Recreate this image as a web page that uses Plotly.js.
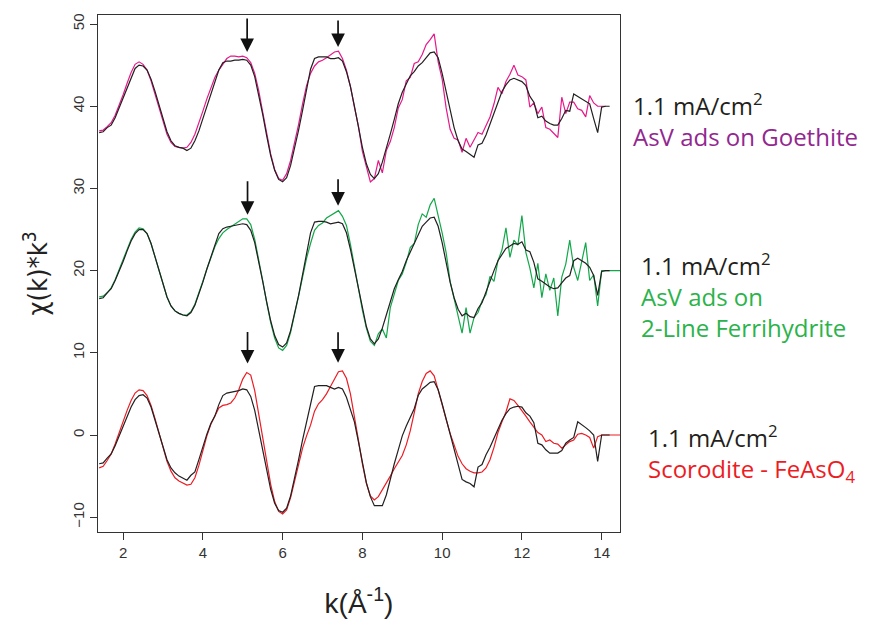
<!DOCTYPE html>
<html><head><meta charset="utf-8">
<script src="https://cdn.plot.ly/plotly-3.0.1.min.js"></script>
<style>html,body{margin:0;padding:0;background:#fff}#chart{width:869px;height:629px}</style>
</head><body><div id="chart"></div>
<script>
const k = [1.4,1.5,1.6,1.7,1.8,1.9,2.0,2.1,2.2,2.3,2.4,2.5,2.6,2.7,2.8,2.9,3.0,3.1,3.2,3.3,3.4,3.5,3.6,3.7,3.8,3.9,
4.0,4.1,4.2,4.3,4.4,4.5,4.6,4.7,4.8,4.9,5.0,5.1,5.2,5.3,5.4,5.5,5.6,5.7,5.8,5.9,6.0,6.1,6.2,6.3,6.4,6.5,6.6,6.7,6.8,6.9,
7.0,7.1,7.2,7.3,7.4,7.5,7.6,7.7,7.8,7.9,8.0,8.1,8.2,8.3,8.4,8.5,8.6,8.7,8.8,8.9,9.0,9.1,9.2,9.3,9.4,9.5,9.6,9.7,9.8,9.9,
10.0,10.1,10.2,10.3,10.4,10.5,10.6,10.7,10.8,10.9,11.0,11.1,11.2,11.3,11.4,11.5,11.6,11.7,11.8,11.9,12.0,12.1,12.2,12.3,12.4,12.5,12.6,12.7,12.8,12.9,
13.0,13.1,13.2,13.3,13.4,13.5,13.6,13.7,13.8,13.9,14.0,14.1,14.2,14.3,14.4,14.5,14.6];

// Top pair: 1.1 mA/cm2 (black) vs AsV ads on Goethite (magenta)
const goethiteSample = [36.8,36.9,37.4,37.7,38.6,39.8,41.0,42.3,43.6,44.6,45.0,44.9,44.4,43.3,41.8,40.1,38.4,36.9,35.8,35.2,35.0,34.9,34.6,34.9,35.8,37.0,
38.5,40.0,41.5,43.0,44.4,45.3,45.5,45.5,45.6,45.6,45.7,45.6,45.0,43.6,41.5,39.0,36.4,34.0,32.2,31.1,30.8,31.3,32.8,34.8,37.1,39.5,42.0,44.5,45.8,46.0,
46.0,46.0,45.8,45.8,45.9,45.5,44.2,42.4,40.0,37.4,35.0,33.0,31.7,31.2,31.8,33.2,34.8,36.6,38.4,40.3,41.7,42.8,43.7,44.2,44.9,45.3,45.9,46.5,46.6,45.9,
44.0,41.8,39.5,37.4,35.8,34.8,34.5,34.2,33.8,35.3,35.5,36.5,37.8,39.0,40.3,41.8,42.6,43.2,43.4,43.2,43.0,42.5,41.2,40.5,38.6,38.8,38.2,37.9,37.7,37.7,
38.5,39.5,39.4,41.5,41.2,40.9,40.6,40.3,38.5,36.8,39.9,40.0,40.0];
const goethiteRef = [37.0,37.1,37.5,38.0,38.9,40.1,41.4,42.8,44.1,45.1,45.4,45.1,44.4,43.1,41.5,39.8,38.1,36.6,35.6,35.1,35.0,34.9,35.0,35.6,36.6,37.9,
39.4,40.9,42.3,43.5,44.4,45.1,45.8,46.1,46.1,46.0,46.1,45.9,45.3,44.0,41.9,39.3,36.6,34.2,32.3,31.2,31.0,31.8,33.4,35.5,37.8,40.3,42.5,44.0,44.9,45.4,
45.6,45.9,46.3,46.6,46.7,45.8,44.4,42.4,39.9,37.6,34.5,32.6,30.8,31.2,33.4,31.9,34.6,35.7,37.4,39.8,40.8,43.1,43.5,45.2,45.4,46.3,47.5,48.1,48.8,45.4,
43.3,39.8,37.2,36.1,35.9,34.4,36.1,35.0,36.0,36.8,36.6,37.6,38.7,40.3,42.3,41.5,43.0,43.9,45.0,43.8,43.6,43.2,39.9,40.4,39.1,39.9,37.4,37.2,36.7,36.2,
41.1,39.1,40.5,40.5,39.7,39.5,38.7,41.3,40.4,40.0,40.0,40.0];

// Middle pair: 1.1 mA/cm2 (black) vs AsV ads on 2-Line Ferrihydrite (green)
const ferriSample = [16.6,16.7,17.3,17.8,18.8,19.9,21.1,22.4,23.6,24.5,25.0,25.0,24.5,23.3,21.7,20.0,18.3,16.8,15.7,15.1,14.8,14.6,14.5,14.9,15.8,17.1,
18.6,20.2,21.7,23.2,24.5,25.1,25.3,25.4,25.5,25.6,25.7,25.6,24.9,23.4,21.2,18.7,16.2,13.9,12.1,11.0,10.7,11.2,12.7,14.7,17.0,19.5,22.1,24.6,25.9,26.0,
26.0,25.9,25.7,25.8,25.9,25.7,24.6,22.6,20.2,17.6,15.2,13.2,11.7,11.1,11.7,13.0,14.6,16.3,17.8,18.9,19.9,21.2,22.2,23.2,24.2,25.4,25.9,26.4,26.5,25.4,
23.4,20.9,18.6,16.7,15.3,14.5,14.8,14.4,14.3,15.4,16.1,17.4,18.8,20.0,21.2,21.9,22.7,23.0,23.3,23.2,23.5,22.5,22.3,21.0,19.0,18.7,18.3,18.0,17.8,17.9,
18.5,19.1,19.4,21.2,21.5,21.2,20.9,20.4,19.4,17.0,19.9,20.0,20.0];
const ferriRef = [16.8,16.9,17.3,17.9,18.9,20.1,21.3,22.6,23.8,24.7,25.2,25.1,24.5,23.3,21.7,20.0,18.3,16.8,15.7,15.1,14.8,14.6,14.6,15.0,15.9,17.2,
18.7,20.2,21.6,22.9,23.9,24.6,25.0,25.3,25.6,26.0,26.3,26.3,25.6,23.8,21.4,18.8,16.1,13.7,11.8,10.6,10.3,10.9,12.5,14.6,16.9,19.2,21.5,23.3,24.9,25.5,
25.8,26.4,26.7,27.0,27.3,26.6,25.5,23.2,20.5,17.7,15.2,13.0,11.4,10.9,12.3,12.9,11.8,15.5,17.1,18.8,19.6,21.0,22.8,23.3,25.6,26.9,26.5,28.0,28.8,26.8,
24.6,22.2,18.7,16.6,14.6,12.4,15.5,12.4,14.3,14.9,16.3,17.1,19.3,18.7,21.2,22.5,25.2,21.6,23.7,23.1,26.7,22.2,20.3,17.9,20.9,16.7,19.6,17.6,19.1,14.5,
19.2,20.8,23.7,20.4,18.8,21.2,23.4,18.8,19.5,15.7,20.0,20.0,20.0,20.0,20.0,20.0,20.0];

// Bottom pair: 1.1 mA/cm2 (black) vs Scorodite - FeAsO4 (red)
const scorSample = [-3.5,-3.4,-2.8,-2.3,-1.3,-0.1,1.1,2.3,3.4,4.3,4.8,4.9,4.5,3.4,1.8,0.1,-1.6,-3.0,-4.0,-4.6,-5.0,-5.3,-5.5,-4.9,-4.5,-3.0,
-1.4,0.1,1.4,2.3,3.7,4.8,5.1,5.2,5.3,5.4,5.6,5.5,4.7,3.0,0.6,-1.9,-4.4,-6.6,-8.3,-9.2,-9.4,-8.9,-7.4,-5.3,-3.0,-0.6,1.6,3.5,5.9,6.0,
6.0,6.0,5.8,5.6,5.8,5.6,4.6,3.2,1.6,-0.8,-3.5,-5.8,-7.5,-8.6,-8.6,-8.6,-7.3,-5.3,-3.5,-1.8,-0.1,1.1,2.2,3.2,4.8,5.6,6.0,6.4,6.5,5.5,
3.8,2.0,0.2,-1.6,-3.3,-5.4,-5.7,-5.9,-6.3,-3.9,-3.6,-2.4,-1.5,-0.4,0.8,1.8,2.6,3.2,3.4,3.5,3.4,2.7,2.3,1.5,-1.0,-1.2,-1.8,-2.2,-2.2,-2.2,
-1.9,-1.0,-0.6,-0.3,1.6,1.3,0.9,0.5,0.0,-3.2,0.0,0.0,0.0];
const scorRef = [-4.0,-3.8,-3.1,-2.3,-1.1,0.3,1.7,3.0,4.2,5.1,5.5,5.4,4.8,3.6,2.0,0.2,-1.6,-3.2,-4.4,-5.2,-5.6,-5.9,-6.1,-6.0,-5.2,-3.7,
-1.9,-0.1,1.3,2.4,3.3,3.6,3.7,3.9,4.5,5.5,6.8,7.6,7.3,5.4,2.6,-0.4,-3.4,-6.0,-8.1,-9.3,-9.6,-9.1,-7.6,-5.5,-3.4,-1.6,-0.1,1.2,2.9,3.8,
4.3,5.0,5.9,6.9,7.7,7.8,6.9,5.0,2.4,-0.6,-3.5,-5.9,-7.4,-7.9,-7.5,-6.7,-5.8,-5.0,-4.1,-3.3,-2.5,-1.2,0.5,2.7,5.0,6.5,7.5,7.8,7.2,5.5,
3.6,1.9,0.2,-1.3,-2.6,-3.5,-4.1,-4.4,-4.6,-4.6,-4.5,-4.0,-3.0,-1.5,0.3,1.6,2.8,4.4,4.2,3.6,3.0,2.3,1.6,1.0,0.3,0.0,-0.8,-0.6,-1.0,-1.1,
-1.6,-1.2,-0.8,-0.6,0.1,0.2,0.0,-0.3,-1.6,-0.2,0.0,0.0,0.0,0.0,0.0,0.0,0.0];

const xTicks = [2,4,6,8,10,12,14];
const yTicks = [-10,0,10,20,30,40,50];

const BLACK = '#231f20', MAG = '#e6198a', GREEN = '#12a84a', RED = '#ed1c24';
function tr(y, c){ return {x:k, y:y, type:'scatter', mode:'lines', line:{color:c, width:1.2}, hoverinfo:'skip'}; }
const data = [tr(goethiteRef,MAG), tr(goethiteSample,BLACK), tr(ferriRef,GREEN), tr(ferriSample,BLACK), tr(scorRef,RED), tr(scorSample,BLACK)];

const tickFont = {family:'"Liberation Sans Narrow","Arial Narrow","Liberation Sans",sans-serif', size:15, color:'#333'};
const labFont = 'Open Sans, Noto Sans, sans-serif';

function arrow(x,y,len){ return {x:x, y:y, xref:'x', yref:'y', text:'', showarrow:true, arrowhead:2, arrowsize:1.6, arrowwidth:1.7, arrowcolor:'#111', ax:0, ay:-len, standoff:0}; }
function col(c, t){ return '<span style="color:'+c+'">'+t+'</span>'; }
function label(py, text, shift){ return {xref:'paper', yref:'y', x:1, y:py, xshift:shift, xanchor:'left', yanchor:'middle', align:'left', showarrow:false, text:text, font:{family:labFont, size:24, color:'#231f20'}}; }

const annotations = [
  arrow(5.11,46.6,35), arrow(7.39,47.2,28),
  arrow(5.12,26.8,35), arrow(7.39,27.9,28),
  arrow(5.12,8.7,33), arrow(7.39,8.8,32),
  label(38.3,'1.1 mA/cm<sup>2</sup><br>'+col('#92278f','AsV ads on Goethite'),11),
  label(17.0,'1.1 mA/cm<sup>2</sup><br>'+col('#2bb34b','AsV ads on')+'<br>'+col('#2bb34b','2-Line Ferrihydrite'),19),
  label(-2.3,'1.1 mA/cm<sup>2</sup><br>'+col('#ed1c24','Scorodite - FeAsO<sub>4</sub>'),26)
];

const layout = {
  width:869, height:629,
  margin:{l:98, r:249, t:15, b:97},
  paper_bgcolor:'#fff', plot_bgcolor:'#fff',
  showlegend:false,
  xaxis:{range:[1.37,14.46], tickvals:xTicks, ticktext:xTicks.map(String), ticks:'outside', ticklen:7, tickwidth:1, tickcolor:'#333',
    showline:true, linecolor:'#333', linewidth:1.2, mirror:true, showgrid:false, zeroline:false, tickfont:tickFont,
    title:{text:'k(Å<sup>-1</sup>)', font:{family:tickFont.family, size:28, color:'#222'}, standoff:33}},
  yaxis:{range:[-11.8,51.1], tickvals:yTicks, ticktext:yTicks.map(v=>v<0?'\u2212'+Math.abs(v):String(v)), ticks:'outside', ticklen:7, tickwidth:1, tickcolor:'#333',
    tickangle:-90, showline:true, linecolor:'#333', linewidth:1.2, mirror:true, showgrid:false, zeroline:false, tickfont:tickFont,
    title:{text:'χ(k)*k<sup>3</sup>', font:{family:'"DejaVu Sans Condensed","Liberation Sans Narrow",sans-serif', size:27, color:'#222'}, standoff:14}},
  annotations:annotations
};
Plotly.newPlot('chart', data, layout, {displayModeBar:false, staticPlot:true});
</script></body></html>
